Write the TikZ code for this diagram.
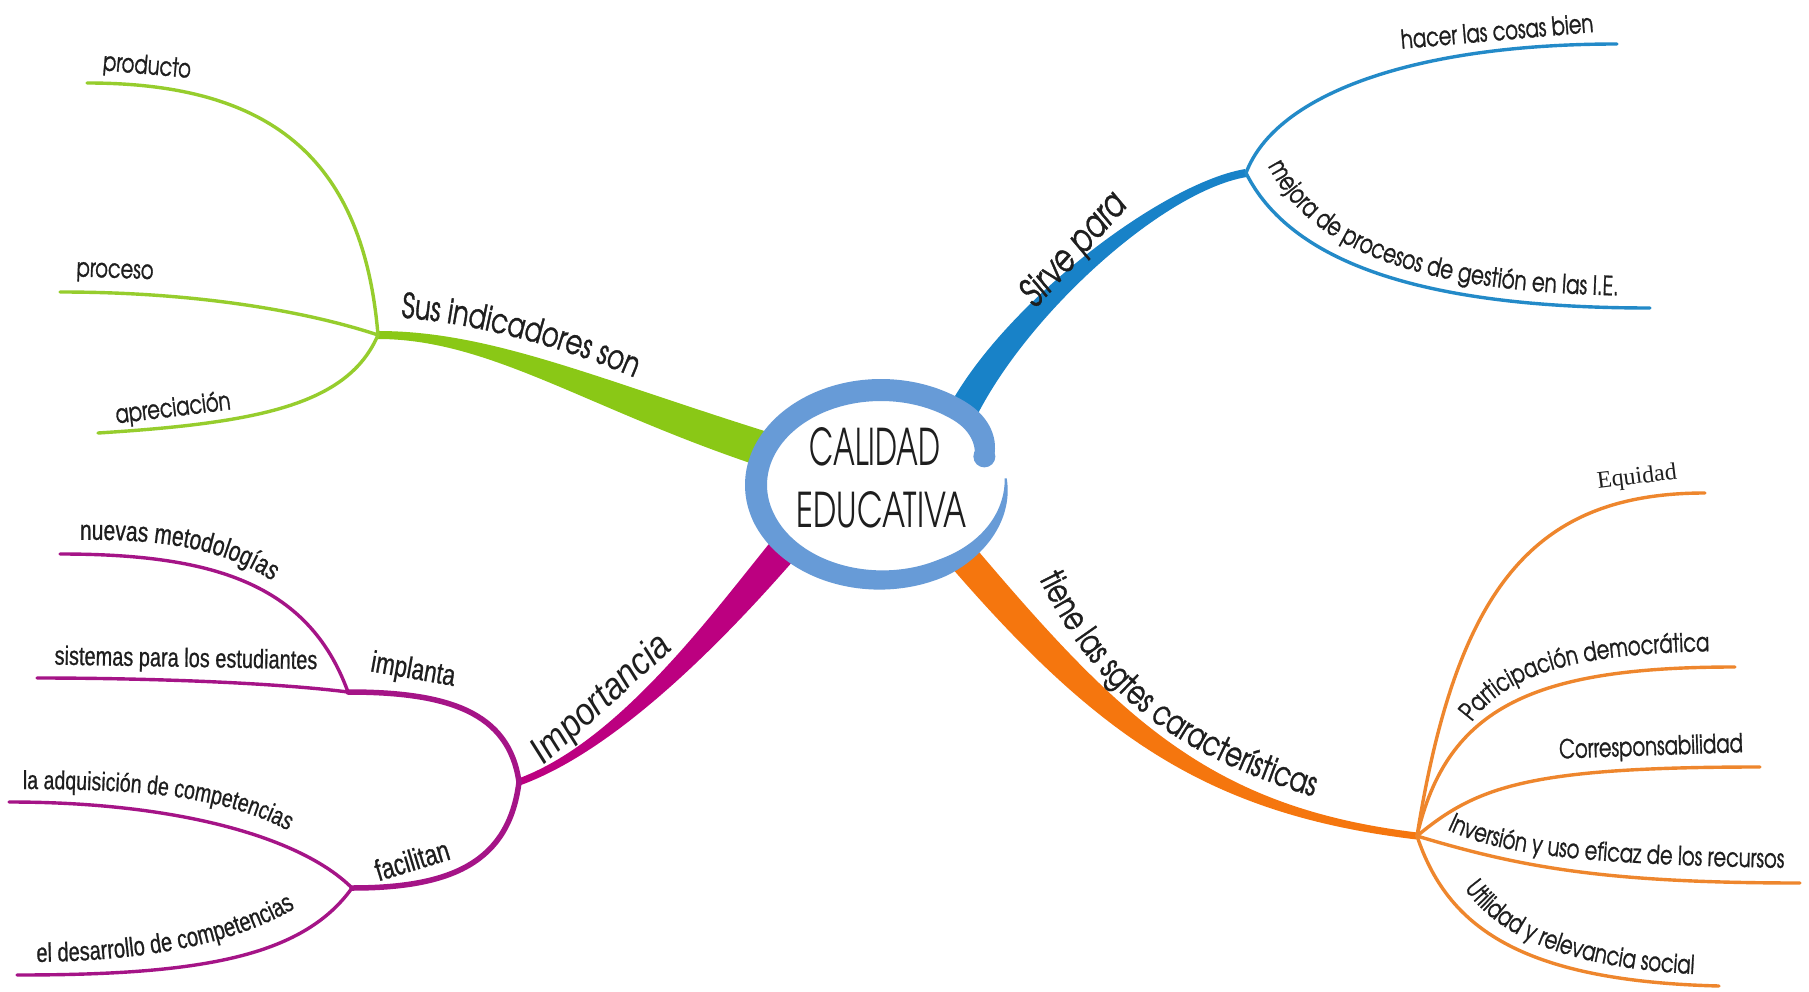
\documentclass[tikz,border=0pt]{standalone}
\usepackage{fontspec}
\usepackage{graphicx}
\usetikzlibrary{calc,decorations.text}
\newfontfamily\gc{texgyreadventor}[Extension=.otf,UprightFont=*-regular,ItalicFont=*-italic,FakeStretch=0.75,FakeBold=1]
\newfontfamily\gcn{texgyreadventor}[Extension=.otf,UprightFont=*-regular]
\newfontfamily\ar{Liberation Sans}[FakeStretch=0.75,FakeBold=0.7]
\newfontfamily\arw{Liberation Sans}[FakeStretch=0.88]
\newfontfamily\tms{Liberation Serif}
\newcommand\fs[1]{\fontsize{#1}{#1}\selectfont}
\definecolor{grn}{RGB}{138,200,22}
\definecolor{grnl}{RGB}{150,205,45}
\definecolor{blu}{RGB}{24,130,200}
\definecolor{blul}{RGB}{35,138,200}
\definecolor{org}{RGB}{245,118,14}
\definecolor{orgl}{RGB}{238,134,45}
\definecolor{pur}{RGB}{188,0,128}
\definecolor{purl}{RGB}{165,20,135}
\definecolor{ringc}{RGB}{103,155,215}
\definecolor{txt}{RGB}{30,30,30}
% tapered branch: colour, start, c1 offset, c2 offset, end, start half-width vector, end half-width vector
\newcommand\taper[7]{%
  \fill[#1] ($(#2)+(#6)$) .. controls ($(#2)+(#3)+(#6)$) and ($(#5)+(#4)+(#7)$) .. ($(#5)+(#7)$)
    -- ($(#5)-(#7)$) .. controls ($(#5)+(#4)-(#7)$) and ($(#2)+(#3)-(#6)$) .. ($(#2)-(#6)$) -- cycle;}
\tikzset{
  lab/.style={inner sep=0pt, text=txt},
  sub/.style={line width=3.4pt, line cap=round},
  declare function={rf(\a)=1-0.12*pow(max(0,(50-\a)/30),2);
                    th(\a)=22-4*min(1,max(0,(\a-200)/100))-16*max(0,(\a-300)/64);}
}
\begin{document}
\begin{tikzpicture}[x=1pt,y=-1pt]
\useasboundingbox (0,0) rectangle (1809,992);
\fill[white] (0,0) rectangle (1809,992);
% named points
\coordinate (G0) at (805,462);
\coordinate (GH) at (378,335);
\coordinate (GP) at (87,83);
\coordinate (GR) at (60,292);
\coordinate (GA) at (98,433);
\coordinate (B0) at (950,440);
\coordinate (BH) at (1246,173);
\coordinate (BA) at (1617,44);
\coordinate (BM) at (1650,308);
\coordinate (O0) at (940,530);
\coordinate (OH) at (1417,836);
\coordinate (OE) at (1705,493);
\coordinate (OP) at (1735,667);
\coordinate (OC) at (1760,767);
\coordinate (OI) at (1800,883);
\coordinate (OU) at (1719,986);
\coordinate (P0) at (800,530);
\coordinate (PH) at (519,782);
\coordinate (PI) at (348,692);
\coordinate (PF) at (352,888);
\coordinate (PN) at (60,554);
\coordinate (PS) at (37,678);
\coordinate (PA) at (9,802);
\coordinate (PD) at (17,975);
% main branches
\taper{grn}{GH}{120,0}{-200,-60}{G0}{0,4}{-5,17}
\taper{blu}{BH}{-90,15}{40,-110}{B0}{0.7,4}{14,5}
\taper{org}{OH}{-217,-26}{160,190}{O0}{0.4,-3.5}{12,-10}
\taper{pur}{PH}{110,-40}{-60,70}{P0}{1.2,3.3}{11.4,9.8}
% green sub-branches
\draw[sub,grnl] (GH) .. controls +(-15,-180) and +(180,0) .. (GP);
\draw[sub,grnl] (GH) .. controls +(-60,-20) and +(150,0) .. (GR);
\draw[sub,grnl] (GH) .. controls +(-30,70) and +(160,-10) .. (GA);
% blue sub-branches
\draw[sub,blul] (BH) .. controls +(30,-80) and +(-200,0) .. (BA);
\draw[sub,blul] (BH) .. controls +(50,100) and +(-200,0) .. (BM);
% orange sub-branches
\draw[sub,orgl] (OH) .. controls +(40,-250) and +(-170,0) .. (OE);
\draw[sub,orgl] (OH) .. controls +(30,-130) and +(-200,0) .. (OP);
\draw[sub,orgl] (OH) .. controls +(60,-50) and +(-230,0) .. (OC);
\draw[sub,orgl] (OH) .. controls +(100,30) and +(-200,0) .. (OI);
\draw[sub,orgl] (OH) .. controls +(30,90) and +(-200,-5) .. (OU);
% purple sub-branches
\draw[sub,purl,line width=5.5pt] (PH) .. controls +(-10,-70) and +(100,0) .. (PI);
\draw[sub,purl,line width=5.5pt] (PH) .. controls +(-10,80) and +(100,0) .. (PF);
\draw[sub,purl] (PI) .. controls +(-40,-110) and +(150,0) .. (PN);
\draw[sub,purl] (PI) .. controls +(-80,-10) and +(100,0) .. (PS);
\draw[sub,purl] (PF) .. controls +(-50,-50) and +(170,0) .. (PA);
\draw[sub,purl] (PF) .. controls +(-50,70) and +(180,0) .. (PD);
% central ellipse
\fill[white] (881,485) ellipse [x radius=127, y radius=97];
\fill[ringc] plot[domain=20:364,samples=160,variable=\t]
   ({881+(125*rf(\t)+th(\t)/2)*cos(\t)},{485-(95*rf(\t)+th(\t)/2)*sin(\t)})
 -- plot[domain=364:20,samples=160,variable=\t]
   ({881+(125*rf(\t)-th(\t)/2)*cos(\t)},{485-(95*rf(\t)-th(\t)/2)*sin(\t)}) -- cycle;
\fill[ringc] ({881+110*cos(20)},{485-83.6*sin(20)}) circle[radius=11];
\node[lab] (calidad) at (875,447) {\resizebox{130pt}{38pt}{\gcn CALIDAD}};
\node[lab] (educativa) at (882,510) {\resizebox{170pt}{36pt}{\gcn EDUCATIVA}};
% main labels
\path[decorate,decoration={text along path,text align=center,text color=txt,
  text={|\gc\fs{34.3}|Sus indicadores son}}]
  (395,317) .. controls (470,322) and (560,345) .. (640,380);
\node[lab,rotate=48] (sirve) at (1074,250) {\gc\itshape\fs{38.4}Sirve para};
\path[decorate,decoration={text along path,text align=center,text color=txt,
  text={|\gc\fs{34.3}|tiene las sgtes características}}]
  (1025,548) .. controls (1090,700) and (1180,760) .. (1345,806);
\node[lab,rotate=42] (importancia) at (602,700) {\arw\itshape\fs{38}Importancia};
% green labels
\node[lab,rotate=-5] (producto) at (147,67) {\gc\fs{26}producto};
\node[lab,rotate=-2] (proceso) at (115,273) {\gc\fs{26}proceso};
\node[lab,rotate=7] (apreciacion) at (173,409) {\gc\fs{26}apreciación};
% blue labels
\node[lab,rotate=5] (hacer) at (1497,31) {\gc\fs{26}hacer las cosas bien};
\path[decorate,decoration={text along path,text align=left,text color=txt,
  text={|\gc\fs{26.4}|mejora de procesos de gestión en las I.E.}}]
  (1268,166) .. controls (1318,266) and (1455,296) .. (1662,296);
% orange labels
\node[lab,rotate=7] (equidad) at (1637,478) {\tms\fs{24}Equidad};
\path[decorate,decoration={text along path,text align=center,text color=txt,
  text={|\gc\fs{26}|Participación democrática}}]
  (1462,738) .. controls (1495,675) and (1570,652) .. (1728,651);
\node[lab,rotate=2] (corresp) at (1651,748) {\gc\fs{26}Corresponsabilidad};
\path[decorate,decoration={text along path,text align=center,text color=txt,
  text={|\gc\fs{26}|Inversión y uso eficaz de los recursos}}]
  (1440,826) .. controls (1490,852) and (1560,864) .. (1792,868);
\path[decorate,decoration={text along path,text align=center,text color=txt,
  text={|\gc\fs{26}|Utilidad y relevancia social}}]
  (1452,868) .. controls (1480,925) and (1545,970) .. (1718,975);
% purple labels
\node[lab,rotate=-10] (implanta) at (413,671) {\ar\fs{30}implanta};
\node[lab,rotate=17] (facilitan) at (412,860) {\ar\fs{30}facilitan};
\node[lab,rotate=-1] (sistemas) at (186,660) {\ar\fs{26.6}sistemas para los estudiantes};
\path[decorate,decoration={text along path,text align=center,text color=txt,
  text={|\ar\fs{28}|nuevas metodologías}}]
  (68,540) .. controls (160,538) and (230,548) .. (282,588);
\path[decorate,decoration={text along path,text align=center,text color=txt,
  text={|\ar\fs{26}|la adquisición de competencias}}]
  (16,789) .. controls (130,789) and (225,794) .. (294,834);
\path[decorate,decoration={text along path,text align=center,text color=txt,
  text={|\ar\fs{26.8}|el desarrollo de competencias}}]
  (25,962) .. controls (140,962) and (240,945) .. (305,902);
\end{tikzpicture}
\end{document}
